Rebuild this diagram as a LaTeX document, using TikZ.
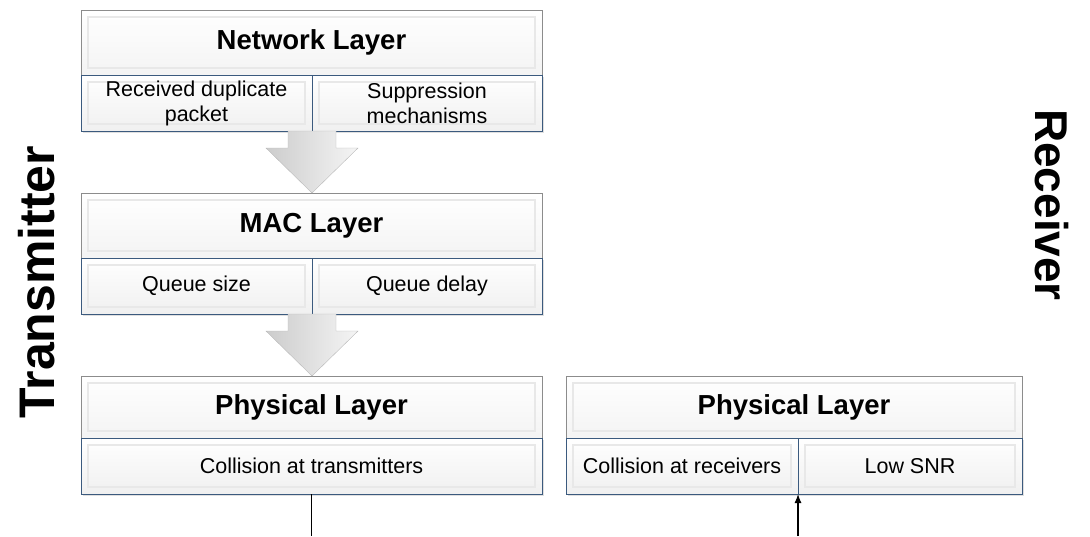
\documentclass[tikz,border=0pt]{standalone}
\usepackage{fontspec}
\setmainfont{Liberation Sans}
\usepackage{tikz}
\usetikzlibrary{calc, positioning, shadows, arrows.meta}
\definecolor{cellline}{HTML}{3B5A7E}
\definecolor{headline}{HTML}{8C8C8C}
\tikzset{
    bevel/.style={path picture={\draw[gray!18, line width=1.2pt] ([shift={(7pt,-7pt)}]path picture bounding box.north west) rectangle ([shift={(-7pt,7pt)}]path picture bounding box.south east);}},
    layerhead/.style={draw=headline, rectangle, top color=white, bottom color=gray!9, bevel, minimum height=65pt, minimum width=461pt, inner sep=0pt, outer sep=0pt, font=\fontsize{27.5}{30}\selectfont\bfseries},
    cell/.style={draw=cellline, rectangle, top color=white, bottom color=gray!12, bevel, minimum height=56pt, inner sep=0pt, outer sep=0pt, align=center, font=\fontsize{21.5}{25}\selectfont, drop shadow={opacity=0.25, shadow xshift=1.5pt, shadow yshift=-2pt}},
    side/.style={font=\fontsize{50}{50}\selectfont\bfseries},
    flow/.style={left color=gray!40, right color=gray!8, draw=gray!55, line join=miter},
    wire/.style={line width=1.2pt, black} }
\newcommand{\blockarrow}[2]{%
    \shade[flow] let \p1=(#1), \p2=(#2) in
        (\x1-24pt,\y1) -- (\x1+24pt,\y1) -- (\x1+24pt,\y2+45pt) -- (\x1+46pt,\y2+45pt)
        -- (\x1,\y2) -- (\x1-46pt,\y2+45pt) -- (\x1-24pt,\y2+45pt) -- cycle;}

\begin{document}
\begin{tikzpicture}[x=1pt, y=-1pt]
			\useasboundingbox (0,0) rectangle (1090,536);
			% transmitter stack
			\node[layerhead, anchor=north west] (net) at (81,10) {Network Layer};
			\node[cell, anchor=north west, minimum width=231pt] (netA) at (net.south west) {Received duplicate\\packet};
			\node[cell, anchor=north west, minimum width=230pt] (netB) at (netA.north east) {Suppression\\mechanisms};

			\node[layerhead, anchor=north west] (mac) at (81,193) {MAC Layer};
			\node[cell, anchor=north west, minimum width=231pt] (macA) at (mac.south west) {Queue size};
			\node[cell, anchor=north west, minimum width=230pt] (macB) at (macA.north east) {Queue delay};

			\node[layerhead, anchor=north west, minimum height=62pt] (phy) at (81,376) {Physical Layer};
			\node[cell, anchor=north west, minimum width=461pt] (phyA) at (phy.south west) {Collision at transmitters};

			% receiver
			\node[layerhead, anchor=north west, minimum height=62pt, minimum width=456pt] (rphy) at (566,376) {Physical Layer};
			\node[cell, anchor=north west, minimum width=232pt] (rphyA) at (rphy.south west) {Collision at receivers};
			\node[cell, anchor=north west, minimum width=224pt] (rphyB) at (rphyA.north east) {Low SNR};

			\node[side, rotate=90] (tx) at (37,282) {Transmitter};
			\node[side, rotate=-90, font=\fontsize{46}{46}\selectfont\bfseries] (rx) at (1052,205) {Receiver};
			% ----
			\blockarrow{netA.south east}{mac.north}
			\blockarrow{macA.south east}{phy.north}

			\coordinate (txend) at (311.5,536);
			\coordinate (rxend) at (798,536);
			\draw[wire] (phyA.south) -- (txend);
			\draw[wire, -{Latex[length=9pt, width=7pt]}] (rxend) -- (rphyA.south east);
		\end{tikzpicture}
\end{document}
